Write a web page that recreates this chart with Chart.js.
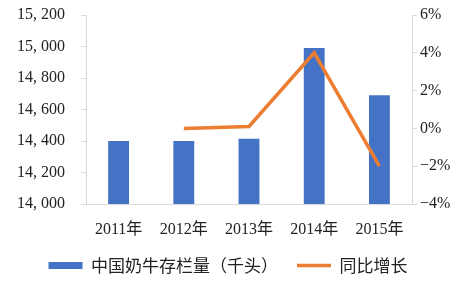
<!DOCTYPE html>
<html>
<head>
<meta charset="utf-8">
<script src="https://cdn.jsdelivr.net/npm/chart.js@4"></script>
<style>
  body { margin: 0; background: #fff; }
  #wrap { width: 456px; height: 288px; }
</style>
</head>
<body>
<div id="wrap"><canvas id="chart" width="456" height="288"></canvas></div>
<script>
var years = ['2011年', '2012年', '2013年', '2014年', '2015年'];
var herd = [14400, 14400, 14415, 14990, 14690];   // 千头
var growth = [null, 0.0, 0.1, 4.0, -2.0];        // %

var serif = '"Liberation Serif", "Noto Sans CJK SC", serif';
var ctx = document.getElementById('chart').getContext('2d');

function fmtHerd(v) {
	return Math.round(v).toLocaleString('en-US').replace(',', ', ');
}
function fmtPct(v) {
	return (v < 0 ? '\u2212' + Math.abs(v) : v) + '%';
}
// keep both value axes the same size as the original plot frame
function fitLeft(s) { s.width = 86; s.paddingTop = 15; }
function fitRight(s) { s.width = 44; s.paddingTop = 15; }

var myChart = new Chart(ctx, {
	data: {
		labels: years,
		datasets: [{
			type: 'line',
			label: '同比增长',
			data: growth,
			yAxisID: 'y2',
			borderColor: '#ED7D31',
			backgroundColor: '#ED7D31',
			borderWidth: 3.5,
			pointRadius: 0,
			pointStyle: 'line',
			tension: 0,
			order: 1
		}, {
			type: 'bar',
			label: '中国奶牛存栏量（千头）',
			data: herd,
			yAxisID: 'y',
			backgroundColor: '#4472C4',
			pointStyle: 'rect',
			categoryPercentage: 1,
			barPercentage: 0.32,
			order: 2
		}]
	},
	options: {
		responsive: false,
		animation: false,
		devicePixelRatio: 1,
		layout: { padding: { top: 0, bottom: 4 } },
		plugins: {
			tooltip: { enabled: false },
			legend: {
				position: 'bottom',
				reverse: true,
				labels: {
					usePointStyle: true,
					pointStyleWidth: 34,
					boxHeight: 7,
					padding: 19,
					color: '#222',
					font: { family: '"Noto Sans CJK SC", sans-serif', size: 17 }
				}
			}
		},
		scales: {
			x: {
				afterFit: function (s) { s.height = 34; },
				grid: { display: false },
				border: { display: true, color: '#d9d9d9' },
				ticks: { color: '#222', padding: 8, font: { family: serif, size: 16 } }
			},
			y: {
				position: 'left',
				min: 14000,
				max: 15200,
				afterFit: fitLeft,
				grid: { drawOnChartArea: false, color: '#d9d9d9', tickLength: 5 },
				border: { color: '#d9d9d9' },
				ticks: {
					stepSize: 200,
					padding: 16,
					color: '#222',
					font: { family: serif, size: 16 },
					callback: fmtHerd
				}
			},
			y2: {
				position: 'right',
				min: -4,
				max: 6,
				afterFit: fitRight,
				grid: { drawOnChartArea: false, color: '#d9d9d9', tickLength: 5 },
				border: { color: '#d9d9d9' },
				ticks: {
					stepSize: 2,
					padding: 3,
					color: '#222',
					font: { family: serif, size: 16 },
					callback: fmtPct
				}
			}
		}
	}
});
</script>
</body>
</html>
